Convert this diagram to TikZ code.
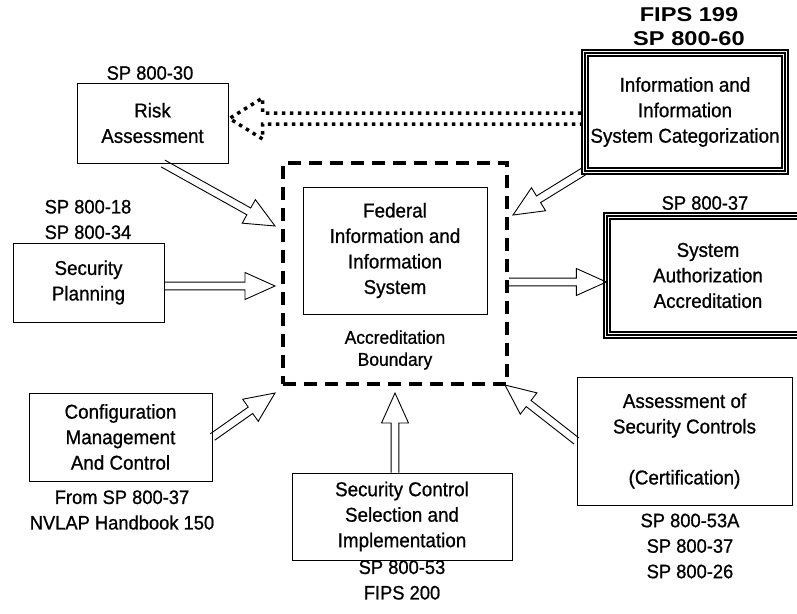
\documentclass[tikz,border=0pt]{standalone}
\usepackage{fontspec}
\setmainfont{Liberation Sans}[FakeStretch=0.94, FakeBold=0.8]
\newfontfamily\widefont{Liberation Sans}[FakeStretch=1.18]
\usetikzlibrary{calc,positioning}
\newcommand{\boxfont}{\fontsize{20}{25.5}\selectfont}
\newcommand{\lblfont}{\fontsize{19.5}{25.5}\selectfont}
\newcommand{\accfont}{\fontsize{18.5}{22}\selectfont}
\newcommand{\fipsfont}{\widefont\bfseries\fontsize{20}{24}\selectfont}
\newcommand{\hollowarrow}[2]{%
  \coordinate (hb) at ($(#2)!30pt!(#1)$);
  \draw[hollow] ($(#1)!3.9pt!90:(#2)$) -- ($(hb)!3.9pt!90:(#2)$)
    -- ($(hb)!13.5pt!90:(#2)$) -- (#2) -- ($(hb)!13.5pt!-90:(#2)$)
    -- ($(hb)!3.9pt!-90:(#2)$) -- ($(#1)!3.9pt!-90:(#2)$);
}
\tikzset{
	box/.style={draw, rectangle, line width=1pt, inner sep=0pt, align=center, font=\boxfont},
	triplebox/.style={draw, rectangle, line width=1.3pt, inner sep=0pt, align=center, font=\boxfont,
		preaction={draw, line width=1.2pt, double=white, double distance=4.8pt}},
	lbl/.style={align=center, inner sep=0pt, font=\lblfont},
}

\begin{document}
\begin{tikzpicture}[
            x=1pt, y=-1pt,
            boundary/.style={draw, rectangle, line width=4pt, dash pattern=on 13pt off 8pt},
            hollow/.style={line width=0.9pt, line join=miter},
            dotline/.style={line width=3.5pt, dash pattern=on 3.5pt off 4.5pt, shorten <=3pt, shorten >=3pt}
        ]
        \useasboundingbox (0,0) rectangle (797,613);
        \clip (0,0) rectangle (797,613);

        \node[box, minimum width=151pt, minimum height=80pt] (risk) at (152.5,123) {Risk\\Assessment};
        \node[lbl] (risklbl) at (150,73) {SP 800-30};

        \node[box, minimum width=151pt, minimum height=79pt] (plan) at (88.5,282.5) {Security\\Planning};
        \node[lbl] (planlbl) at (88,219.5) {SP 800-18\\SP 800-34};

        \node[box, minimum width=183pt, minimum height=88pt] (config) at (120.5,437) {Configuration\\Management\\And Control};
        \node[lbl] (configlbl) at (122,510) {From SP 800-37\\NVLAP Handbook 150};

        \node[boundary, minimum width=224pt, minimum height=221pt] (bound) at (395,273.5) {};
        \node[box, minimum width=184pt, minimum height=127pt] (fed) at (395,250.5) {Federal\\Information and\\Information\\System};
        \node[lbl, font=\accfont] (acc) at (395,350) {Accreditation\\Boundary};

        \node[box, minimum width=220pt, minimum height=87pt] (ctrl) at (402,516.5) {Security Control\\Selection and\\Implementation};
        \node[lbl] (ctrllbl) at (402,580) {SP 800-53\\FIPS 200};

        \node[box, minimum width=215pt, minimum height=128pt] (assess) at (684.5,441) {Assessment of\\Security Controls\\[25.5pt](Certification)};
        \node[lbl] (assesslbl) at (690,546) {SP 800-53A\\SP 800-37\\SP 800-26};

        \node[triplebox, minimum width=200pt, minimum height=118pt] (info) at (685,112) {Information and\\Information\\System Categorization};
        \node[lbl, font=\fipsfont] (infolbl) at (689,27) {FIPS 199\\SP 800-60};

        \node[triplebox, minimum width=202pt, minimum height=119pt] (auth) at (708,275.5) {System\\Authorization\\Accreditation};
        \node[lbl] (authlbl) at (705,203) {SP 800-37};

        \coordinate (riskout) at ([xshift=10.5pt]risk.south);
        \coordinate (risktip) at (275,226);
        \coordinate (planout) at ([yshift=-3.5pt]plan.east);
        \coordinate (plantip) at (275,286);
        \coordinate (configout) at (config.east);
        \coordinate (configtip) at (275,393);
        \coordinate (ctrlout) at ([xshift=-7pt]ctrl.north);
        \coordinate (ctrltip) at (395,393);
        \coordinate (assessout) at (assess.west);
        \coordinate (assesstip) at (505,385);
        \coordinate (infoout) at ([xshift=-1pt]info.south west);
        \coordinate (infotip) at (513,215);
        \coordinate (boundout) at ([yshift=-8.5pt]bound.east);
        \coordinate (authtip) at ([yshift=-6.5pt]auth.west);

        \hollowarrow{riskout}{risktip}
        \hollowarrow{planout}{plantip}
        \hollowarrow{configout}{configtip}
        \hollowarrow{ctrlout}{ctrltip}
        \hollowarrow{assessout}{assesstip}
        \hollowarrow{infoout}{infotip}
        \hollowarrow{boundout}{authtip}

        \coordinate (dottip) at ([xshift=1pt,yshift=4.5pt]risk.east);
        \coordinate (dotbase) at ([xshift=33pt]dottip);
        \coordinate (dotup) at ([yshift=5.5pt]dotbase);
        \coordinate (dotdn) at ([yshift=-5.5pt]dotbase);
        \draw[dotline] (dotup -| info.west) -- (dotup) -- ([yshift=20.5pt]dotbase) -- (dottip)
            -- ([yshift=-20.5pt]dotbase) -- (dotdn) -- (dotdn -| info.west);
    \end{tikzpicture}
\end{document}
